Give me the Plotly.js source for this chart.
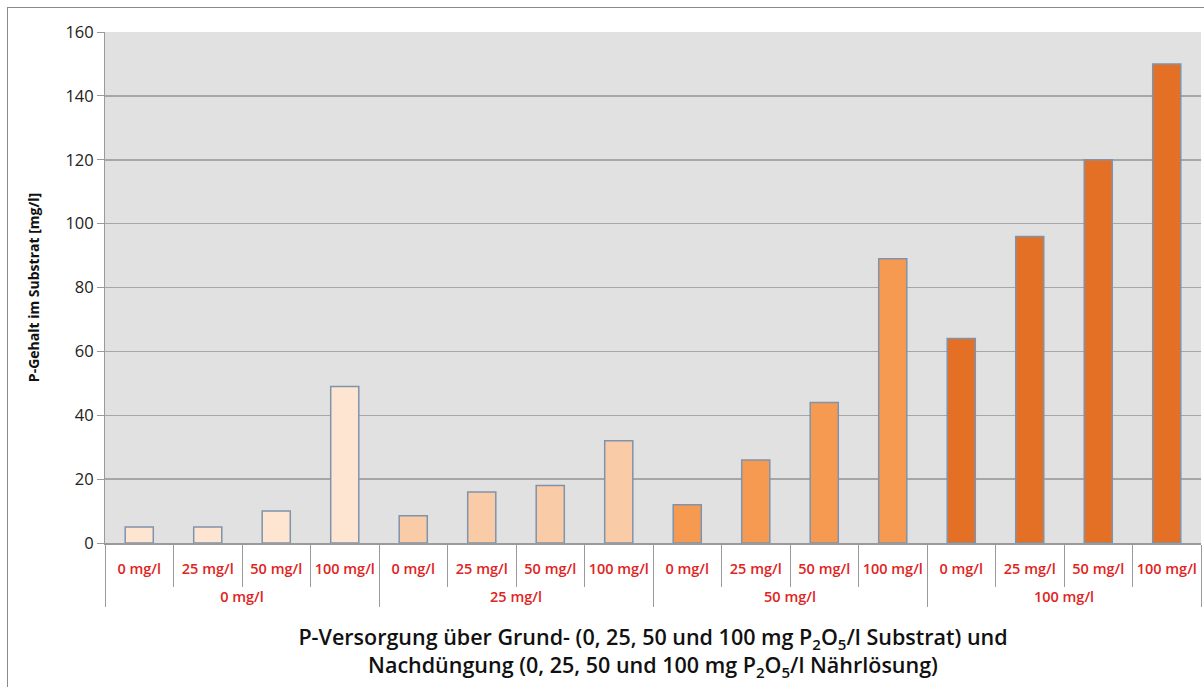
<!DOCTYPE html>
<html><head><meta charset="utf-8">
<script src="https://cdn.plot.ly/plotly-3.0.1.min.js"></script>
<style>
html,body{margin:0;padding:0;background:#fff;}
#frame{position:absolute;left:7px;top:7px;width:1300px;height:800px;border:1.5px solid #8a8a8a;pointer-events:none;z-index:10;}
</style>
</head><body>
<div id="chart" style="width:1204px;height:687px;"></div>
<div id="frame"></div>
<script>
const grundGroups = ["0 mg/l","25 mg/l","50 mg/l","100 mg/l"];
const nachLabels = ["0 mg/l","25 mg/l","50 mg/l","100 mg/l"];
const values = [
  [5, 5, 10, 49],
  [8.5, 16, 18, 32],
  [12, 26, 44, 89],
  [64, 96, 120, 150]
];
const groupColors = ["#FDE5D2", "#F9CBA6", "#F79A51", "#E47026"];

const xOuter = [], xInner = [], yVals = [], colors = [];
grundGroups.forEach((g, gi) => {
  nachLabels.forEach((n, ni) => {
    xOuter.push(g); xInner.push(n + "<br>\u00a0");
    yVals.push(values[gi][ni]);
    colors.push(groupColors[gi]);
  });
});

const trace = {
  type: "bar",
  x: [xOuter, xInner],
  y: yVals,
  marker: {color: colors, line: {color: "#7F94AC", width: 1.5}},
  hoverinfo: "y"
};

const layout = {
  width: 1204, height: 687,
  margin: {l: 105, r: 3, t: 32, b: 144},
  paper_bgcolor: "#ffffff",
  plot_bgcolor: "#E1E1E1",
  bargap: 0.59,
  showlegend: false,
  font: {family: "Open Sans, sans-serif", color: "#222"},
  xaxis: {
    type: "multicategory",
    tickangle: 0,
    tickfont: {size: 14.5, color: "#E0241E", family: "Open Sans, sans-serif", weight: 600},
    showline: true, linecolor: "#9a9a9a", linewidth: 1.5,
    ticks: "outside", tickson: "boundaries", ticklen: 42, tickcolor: "#9a9a9a", tickwidth: 1,
    ticklabelstandoff: 12,
    showdividers: true, dividercolor: "#9a9a9a", dividerwidth: 1,
    title: {
      text: "P-Versorgung über Grund- (0, 25, 50 und 100 mg P<sub>2</sub>O<sub>5</sub>/l Substrat) und<br>Nachdüngung (0, 25, 50 und 100 mg P<sub>2</sub>O<sub>5</sub>/l Nährlösung)",
      font: {size: 21.5, color: "#111", family: "Open Sans, sans-serif", weight: 600},
      standoff: 25
    }
  },
  yaxis: {
    range: [0, 160], dtick: 20, tick0: 0,
    showgrid: true, gridcolor: "#A6A6A6", gridwidth: 1.5,
    zeroline: false,
    showline: true, linecolor: "#9a9a9a", linewidth: 1,
    ticks: "outside", ticklen: 7, tickcolor: "#9a9a9a",
    tickfont: {size: 16.5, color: "#222"},
    title: {
      text: "P-Gehalt im Substrat [mg/l]",
      font: {size: 14, color: "#111", weight: 700},
      standoff: 22
    }
  }
};

Plotly.newPlot("chart", [trace], layout, {displayModeBar: false, staticPlot: true});
</script>
</body></html>
